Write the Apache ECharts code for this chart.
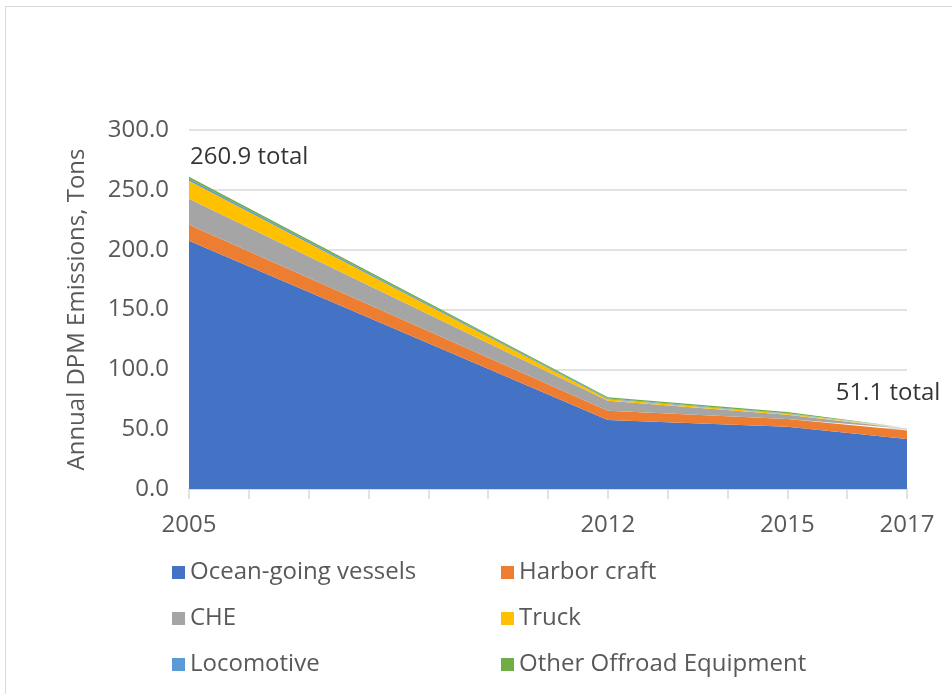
<!DOCTYPE html>
<html>
<head>
<meta charset="utf-8">
<script src="https://cdn.jsdelivr.net/npm/echarts@6/dist/echarts.min.js"></script>
<style>
  html, body { margin: 0; padding: 0; background: #fff; }
  #chart { width: 952px; height: 694px; }
</style>
</head>
<body>
<div id="chart"></div>
<script>
// 数据：各年份各来源的DPM排放量（吨）
const years = [2005, 2012, 2015, 2017]
const labelYears = [2005, 2012, 2015, 2017]
const ogv = [207.5, 57.6, 52.0, 41.8]
const harborCraft = [13.4, 7.8, 6.5, 7.0]
const che = [21.7, 8.4, 3.5, 1.5]
const truck = [15.0, 1.2, 0.8, 0.2]
const locomotive = [1.6, 0.7, 0.6, 0.2]
const otherOffroad = [1.7, 1.0, 0.9, 0.4]

const seriesDefs = [
  { name: 'Ocean-going vessels', values: ogv, color: '#4472C4' },
  { name: 'Harbor craft', values: harborCraft, color: '#ED7D31' },
  { name: 'CHE', values: che, color: '#A5A5A5' },
  { name: 'Truck', values: truck, color: '#FFC000' },
  { name: 'Locomotive', values: locomotive, color: '#5B9BD5' },
  { name: 'Other Offroad Equipment', values: otherOffroad, color: '#70AD47' }
]

// 总量 = 各来源之和
const totals = years.map((y, i) => seriesDefs.reduce((s, d) => s + d.values[i], 0))

const font = '"Open Sans", "Noto Sans", sans-serif'
const fs = 24
const chart = echarts.init(document.getElementById('chart'))

// 数值维度放在第一位，使堆叠作用在y方向（x轴也是数值轴）
const areaSeries = seriesDefs.map(d => ({
  name: d.name,
  type: 'line',
  stack: 'total',
  symbol: 'none',
  dimensions: [{ name: 'tons', type: 'float' }, { name: 'year', type: 'float' }],
  encode: { x: 'year', y: 'tons' },
  lineStyle: { width: 0 },
  areaStyle: { color: d.color, opacity: 1 },
  itemStyle: { color: d.color },
  data: years.map((y, i) => [d.values[i], y])
}))

// 首尾总量标注
const last = years.length - 1
const totalLabels = {
  type: 'scatter',
  symbolSize: 0,
  z: 10,
  silent: true,
  data: [
    {
      value: [years[0], totals[0]],
      label: { show: true, position: 'top', align: 'left', distance: 8, offset: [1, 0] }
    },
    {
      value: [years[last], totals[last]],
      label: { show: true, position: 'top', distance: 23, offset: [-19, 0] }
    }
  ],
  label: {
    color: '#000',
    fontSize: fs,
    fontFamily: font,
    formatter: p => p.value[1].toFixed(1) + ' total'
  }
}

const legendCommon = {
  orient: 'vertical',
  icon: 'rect',
  itemWidth: 13,
  itemHeight: 13,
  itemGap: 21,
  top: 555,
  textStyle: { color: '#595959', fontSize: fs, fontFamily: font, lineHeight: 25 },
  selectedMode: false
}

const option = {
  animation: false,
  backgroundColor: '#fff',
  graphic: [{
    type: 'rect',
    shape: { x: 5.5, y: 6.5, width: 970, height: 710 },
    style: { fill: 'none', stroke: '#d9d9d9', lineWidth: 1 }
  }],
  legend: [
    Object.assign({}, legendCommon, { left: 167, data: ['Ocean-going vessels', 'CHE', 'Locomotive'] }),
    Object.assign({}, legendCommon, { left: 496, data: ['Harbor craft', 'Truck', 'Other Offroad Equipment'] })
  ],
  grid: { left: 189, right: 45, top: 130, bottom: 205, containLabel: false },
  xAxis: {
    type: 'value',
    min: 2005,
    max: 2017,
    interval: 1,
    axisLine: { lineStyle: { color: '#d9d9d9', width: 1.5 } },
    axisTick: { show: true, length: 10, lineStyle: { color: '#d9d9d9', width: 1.5 } },
    splitLine: { show: false },
    axisLabel: {
      color: '#595959',
      fontSize: fs,
      fontFamily: font,
      margin: 24,
      showMinLabel: true,
      showMaxLabel: true,
      formatter: v => labelYears.includes(v) ? String(v) : ''
    }
  },
  yAxis: {
    type: 'value',
    min: 0,
    max: 300,
    interval: 50,
    name: 'Annual DPM Emissions, Tons',
    nameLocation: 'middle',
    nameRotate: 90,
    nameGap: 100,
    nameTextStyle: { color: '#595959', fontSize: fs, fontFamily: font },
    axisLine: { show: false },
    axisTick: { show: false },
    splitLine: { lineStyle: { color: '#d9d9d9', width: 1.5 } },
    axisLabel: {
      color: '#595959',
      fontSize: fs,
      fontFamily: font,
      margin: 20,
      formatter: v => v.toFixed(1)
    }
  },
  series: areaSeries.concat([totalLabels])
}

chart.setOption(option)
</script>
</body>
</html>
